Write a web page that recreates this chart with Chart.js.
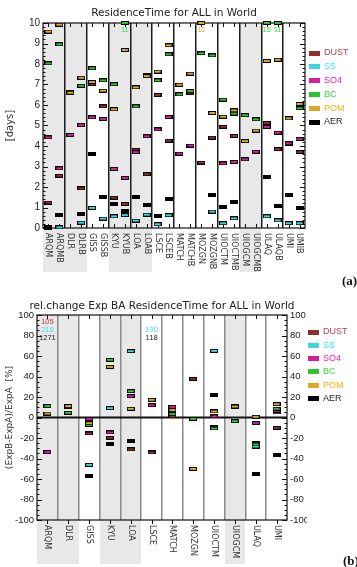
<!DOCTYPE html>
<html>
<head>
<meta charset="utf-8">
<script src="https://cdn.jsdelivr.net/npm/chart.js@4.4.1/dist/chart.umd.min.js"></script>
<style>
  body { margin: 0; background: #fff; }
  #wrap { position: relative; width: 357px; height: 567px; overflow: hidden; }
  canvas { position: absolute; left: 0; }
  #top { top: 0; }
  #bottom { top: 295px; }
</style>
</head>
<body>
<div id="wrap">
  <canvas id="top" width="357" height="295"></canvas>
  <canvas id="bottom" width="357" height="272"></canvas>
</div>
<script>
// aerosol components, drawn in this order (AER ends up on top)
const species = ["DUST", "SS", "SO4", "BC", "POM", "AER"];

// (a) residence time in days, per model run
const modelsTop = ["ARQM", "ARQMB", "DLR", "DLRB", "GISS", "GISSB", "KYU", "KYUB", "LOA", "LOAB", "LSCE", "LSCEB",
    "MATCH", "MATCHB", "MOZGN", "MOZGNB", "UIOCTM", "UIOCTMB", "UIOGCM", "UIOGCMB", "ULAQ", "ULAQB", "UMI", "UMIB"];
const dustTop = [1.24, 2.55, null, 1.93, 7.02, 5.93, 1.48, 1.17, 3.82, 2.62, 6.49, 4.26,
    6.54, 6.60, 3.19, 4.41, 4.94, 4.49, null, null, 5.12, 3.85, 4.12, 3.71];
const ssTop = [0.01, 0.03, null, 0.26, 0.98, 0.46, 0.57, 0.63, 0.36, 0.65, 0.18, 0.62,
    null, null, null, 0.80, 0.23, 0.47, null, null, 0.57, 0.37, 0.23, 0.23];
const so4Top = [4.42, 2.91, 4.54, 5.02, 5.40, 5.32, 2.88, 2.44, 3.70, 4.47, 4.81, 5.41,
    3.63, 4.02, null, null, 3.15, 3.22, 3.35, 3.72, 4.93, 4.65, 4.13, 4.34];
const bcTop = [8.03, 8.96, 6.63, 6.94, 7.79, 7.20, 7.01, 11, 5.93, 7.45, 7.20, 8.47,
    6.52, 6.68, 8.52, 8.42, 6.26, 5.58, 5.50, 5.30, 15, 11, 5.38, 5.84];
const pomTop = [9.58, 9.92, 6.60, 7.33, 7.12, 6.70, 5.79, 8.68, 6.86, 7.41, 7.63, 8.91,
    6.99, 7.53, 11, 5.61, 5.43, 5.74, 4.24, 4.75, 8.15, 8.21, 5.35, 6.05];
const aerTop = [0.05, 0.63, null, 0.68, 3.59, 1.50, 1.15, 0.83, 1.50, 1.14, 0.57, 1.40,
    null, null, null, 1.59, 1.01, 1.25, null, null, 2.49, 1.07, 1.59, 0.99];
const shadedTop = ["ARQM", "ARQMB", "DLR", "DLRB", "KYU", "KYUB", "LOA", "LOAB", "UIOGCM", "UIOGCMB"];

// (b) relative change (ExpB-ExpA)/ExpA in percent
const modelsRel = ["ARQM", "DLR", "GISS", "KYU", "LOA", "LSCE", "MATCH", "MOZGN", "UIOCTM", "UIOGCM", "ULAQ", "UMI"];
const dustRel = [105, null, -15.6, -19.8, -31.2, -34.1, 1.0, 37.4, -9.1, null, -25.0, -10.1];
const ssRel = [218, null, -46.2, 9.1, 64.7, 130, null, null, 65.0, null, -28.3, 5.0];
const so4Rel = [-33.8, 10.6, -1.3, -14.6, 20.8, 12.0, 10.4, null, 1.0, 11.0, -5.5, 6.5];
const bcRel = [11.1, 4.6, -7.2, 56.3, 25.7, 17.4, 3.3, -1.3, -10.7, -3.6, -26.3, 8.5];
const pomRel = [3.9, 11.1, -5.5, 49.4, 8.5, 17.2, 7.2, -50.1, 5.9, 10.7, 0.7, 13.0];
const aerRel = [1271, null, -57.2, -26.0, -22.8, 118, null, null, 22.4, null, -55.0, -36.4];
const shadedRel = ["ARQM", "DLR", "KYU", "LOA", "UIOGCM"];

// colours
const barColor = { DUST: "#8c2f2f", SS: "#3ed6dc", SO4: "#d4209c", BC: "#2fc42f", POM: "#dca82a", AER: "#000000" };
const textColor = { DUST: "#bd3c48", SS: "#38e2f2", SO4: "#f21cb0", BC: "#36de36", POM: "#f6b010", AER: "#222222" };
// text line used for values beyond the axis range
const overSlot = { DUST: 0, SS: 1, SO4: 0, BC: 0, POM: 0, AER: 2 };

function markImage(color, w, h, border) {
    const c = document.createElement("canvas");
    c.width = w;
    c.height = h;
    const g = c.getContext("2d");
    g.fillStyle = color;
    g.fillRect(0, 0, w, h);
    if (border) {
        g.strokeStyle = "#000";
        g.lineWidth = 1;
        g.strokeRect(0.5, 0.5, w - 1, h - 1);
    }
    return c;
}

function makePanel(id, p) {
    const n = p.labels.length;
    const tickFont = { family: "Liberation Sans", size: p.tickSize };

    const datasets = species.map((s, k) => ({
        label: s,
        data: p.series[k].map(v => v === null ? null : (v > p.yMax ? (p.clampHigh ? p.yMax : null) : v)),
        pointStyle: markImage(barColor[s], 8, 4, true),
        pointRadius: 3,
        pointHoverRadius: 3,
        showLine: false,
        clip: false,
        order: species.length - k,
    }));

    const deco = {
        id: "deco" + id,
        beforeDraw(chart) {
            const { ctx, chartArea: a, scales: { x } } = chart;
            const half = (x.getPixelForValue(1) - x.getPixelForValue(0)) / 2;
            ctx.save();
            ctx.fillStyle = "#e8e8e8";
            p.labels.forEach((m, i) => {
                if (!p.shaded.includes(m)) return;
                const cx = x.getPixelForValue(i);
                const l = Math.round(cx - half), r = Math.round(cx + half);
                ctx.fillRect(l, a.top, r - l, a.bottom - a.top + p.shadeBelow);
            });
            ctx.restore();
        },
        beforeDatasetsDraw(chart) {
            const { ctx, chartArea: a, scales: { x, y } } = chart;
            ctx.save();
            ctx.strokeStyle = "#111";
            ctx.lineWidth = 1;
            // minor / major ticks pointing inward on both y sides
            for (let v = p.yMin; v <= p.yMax + 1e-9; v += p.minor) {
                const py = Math.round(y.getPixelForValue(v)) + 0.5;
                const major = Math.abs(v / p.yStep - Math.round(v / p.yStep)) < 1e-6;
                const len = major ? 5 : 2.5;
                ctx.beginPath();
                ctx.moveTo(a.left, py); ctx.lineTo(a.left + len, py);
                ctx.moveTo(a.right, py); ctx.lineTo(a.right - len, py);
                ctx.stroke();
            }
            // column ticks
            for (let i = 0; i < n; i++) {
                const px = Math.round(x.getPixelForValue(i)) + 0.5;
                ctx.beginPath();
                ctx.moveTo(px, a.top); ctx.lineTo(px, a.top + 4);
                if (p.bottomTicksOut) {
                    ctx.moveTo(px, a.bottom); ctx.lineTo(px, a.bottom + 4);
                } else {
                    ctx.moveTo(px, a.bottom); ctx.lineTo(px, a.bottom - 4);
                }
                ctx.stroke();
            }
            if (p.zeroLine) {
                const py = y.getPixelForValue(0);
                ctx.lineWidth = 2;
                ctx.beginPath();
                ctx.moveTo(a.left, py); ctx.lineTo(a.right, py);
                ctx.stroke();
            }
            ctx.lineWidth = 1.2;
            ctx.strokeRect(a.left, a.top, a.right - a.left, a.bottom - a.top);
            ctx.restore();
        },
        afterDraw(chart) {
            const { ctx, chartArea: a, scales: { x } } = chart;
            ctx.save();
            // title
            ctx.fillStyle = "#222";
            ctx.font = "10.5px 'DejaVu Sans'";
            ctx.textAlign = "center";
            ctx.textBaseline = "middle";
            ctx.fillText(p.title, (a.left + a.right) / 2, p.titleY);

            // model names, rotated clockwise
            ctx.font = "8px 'DejaVu Sans'";
            ctx.fillStyle = "#333";
            ctx.textAlign = "left";
            p.labels.forEach((m, i) => {
                ctx.save();
                ctx.translate(x.getPixelForValue(i), a.bottom + 5);
                ctx.rotate(Math.PI / 2);
                ctx.fillText(m, 0, 0);
                ctx.restore();
            });

            // values beyond the top of the axis
            ctx.font = "7.5px 'Liberation Sans'";
            ctx.textAlign = "center";
            species.forEach((s, k) => {
                p.series[k].forEach((v, i) => {
                    if (v === null || v <= p.yMax) return;
                    ctx.fillStyle = textColor[s];
                    ctx.fillText(String(Math.round(v)), x.getPixelForValue(i), a.top + 7 + overSlot[s] * 8);
                });
            });

            // legend
            ctx.font = "9px 'Liberation Sans'";
            ctx.textAlign = "left";
            species.forEach((s, k) => {
                const ly = p.legendY + k * p.legendStep;
                ctx.drawImage(markImage(barColor[s], 11, 5, false), p.legendX, Math.round(ly - 2.5));
                ctx.fillStyle = textColor[s];
                ctx.fillText(s, p.legendX + 15, ly);
            });

            // panel tag
            ctx.fillStyle = "#111";
            ctx.font = "bold 13px 'Liberation Serif'";
            ctx.fillText(p.tag, p.tagX, p.tagY);
            ctx.restore();
        },
    };

    const scales = {
        x: {
            type: "category",
            offset: true,
            grid: {
                offset: true,
                drawTicks: false,
                lineWidth: 1.5,
                color: c => (c.index > 0 && c.index < n && c.index % p.sepEvery === 0) ? p.sepColor : "rgba(0,0,0,0)",
            },
            ticks: { display: false },
            border: { display: false },
            afterFit: s => { s.height = 0; },
        },
        y: {
            position: "left",
            min: p.yMin,
            max: p.yMax,
            ticks: { stepSize: p.yStep, autoSkip: false, padding: 3, color: "#222", font: tickFont },
            grid: { display: false, drawTicks: false },
            border: { display: false },
            title: {
                display: true,
                text: p.yTitle,
                color: "#333",
                font: { family: "DejaVu Sans", size: p.yTitleSize },
                padding: { top: 4, bottom: 0 },
            },
            afterFit: s => { s.width = p.yWidth; },
        },
    };
    if (p.rightLabels) {
        scales.y2 = {
            position: "right",
            min: p.yMin,
            max: p.yMax,
            ticks: { stepSize: p.yStep, autoSkip: false, padding: 3, color: "#222", font: tickFont },
            grid: { display: false, drawTicks: false },
            border: { display: false },
            afterFit: s => { s.width = p.y2Width; },
        };
    }

    return new Chart(document.getElementById(id), {
        type: "line",
        data: { labels: p.labels, datasets: datasets },
        options: {
            responsive: false,
            animation: false,
            events: [],
            layout: { padding: p.pad },
            plugins: { legend: { display: false }, tooltip: { enabled: false }, title: { display: false } },
            scales: scales,
        },
        plugins: [deco],
    });
}

makePanel("top", {
    labels: modelsTop,
    series: [dustTop, ssTop, so4Top, bcTop, pomTop, aerTop],
    yMin: 0, yMax: 10, yStep: 1, minor: 0.2,
    clampHigh: true,
    shaded: shadedTop, shadeBelow: 44,
    sepEvery: 2, sepColor: "#1c1c1c",
    title: "ResidenceTime for ALL in World", titleY: 13,
    yTitle: "[days]", yTitleSize: 10,
    tickSize: 10,
    rightLabels: false, zeroLine: false, bottomTicksOut: false,
    pad: { left: 0, right: 52, top: 23, bottom: 67 }, yWidth: 43,
    legendX: 309, legendY: 53, legendStep: 13.8,
    tag: "(a)", tagX: 342, tagY: 282,
});

makePanel("bottom", {
    labels: modelsRel,
    series: [dustRel, ssRel, so4Rel, bcRel, pomRel, aerRel],
    yMin: -100, yMax: 100, yStep: 20, minor: 5,
    clampHigh: false,
    shaded: shadedRel, shadeBelow: 44,
    sepEvery: 1, sepColor: "#8a8a8a",
    title: "rel.change Exp BA ResidenceTime for ALL in World", titleY: 11,
    yTitle: "(ExpB-ExpA)/ExpA  [%]", yTitleSize: 9,
    tickSize: 9.5,
    rightLabels: true, zeroLine: true, bottomTicksOut: true,
    pad: { left: 0, right: 50, top: 20, bottom: 47 }, yWidth: 37, y2Width: 20,
    legendX: 308, legendY: 37, legendStep: 13.3,
    tag: "(b)", tagX: 343, tagY: 267,
});
</script>
</body>
</html>
